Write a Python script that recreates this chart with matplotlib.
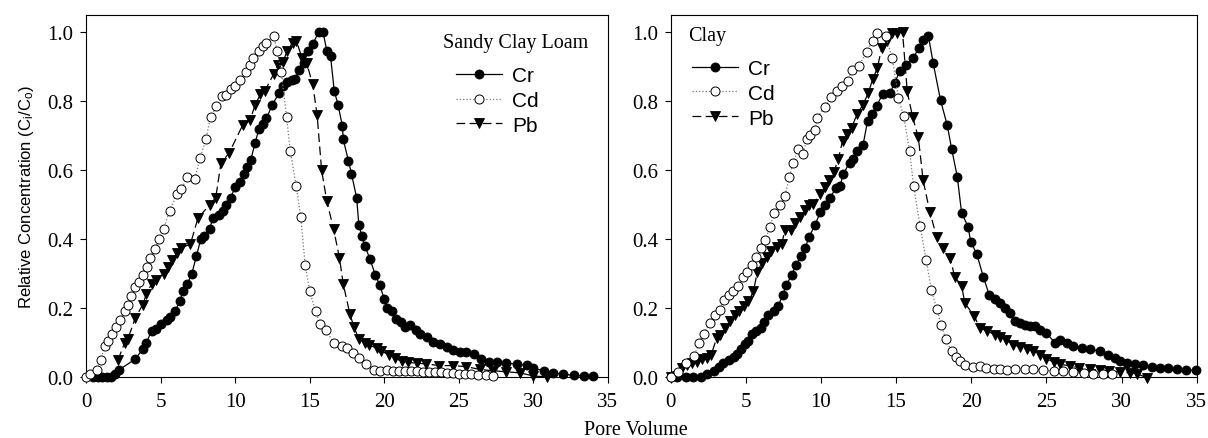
import matplotlib
matplotlib.use("Agg")
import matplotlib.pyplot as plt

plt.rcParams["mathtext.default"] = "regular"

SERIF = "Liberation Serif"
SANS = "Liberation Sans"

# Sandy Clay Loam
scl_cr_x = [0.5, 0.8, 1.1, 1.4, 1.7, 1.95, 2.2, 3.3, 3.8, 4.05, 4.4, 4.7, 5.0, 5.4, 5.6, 5.95,
            6.3, 6.5, 6.8, 7.1, 7.4, 7.7, 7.9, 8.3, 8.5, 8.9, 9.2, 9.4, 9.7, 10.0, 10.3, 10.6,
            10.8, 11.05, 11.35, 11.6, 11.9, 12.1, 12.5, 12.97, 13.2, 13.5, 13.8, 14.0, 14.3,
            14.6, 14.9, 15.2, 15.6, 15.9, 16.15, 16.4, 16.65, 16.9, 17.2, 17.25, 17.6, 17.8,
            18.15, 18.3, 18.5, 18.7, 19.05, 19.4, 19.7, 20.0, 20.2, 20.5, 20.8, 21.1, 21.4,
            21.7, 22.1, 22.4, 22.85, 23.3, 23.75, 24.2, 24.6, 25.1, 25.5, 26.0, 26.5, 27.0,
            27.55, 28.2, 28.9, 29.55, 30.0, 30.7, 31.35, 32.0, 32.7, 33.4, 34.0]
scl_cr_y = [0.0, 0.0, 0.0, 0.0, 0.0, 0.01, 0.02, 0.052, 0.08, 0.10, 0.134, 0.14, 0.155, 0.165,
            0.175, 0.19, 0.22, 0.25, 0.27, 0.30, 0.35, 0.40, 0.41, 0.43, 0.46, 0.47, 0.48, 0.50,
            0.52, 0.55, 0.565, 0.59, 0.61, 0.63, 0.68, 0.72, 0.735, 0.75, 0.79, 0.825, 0.845,
            0.855, 0.86, 0.865, 0.89, 0.91, 0.945, 0.965, 1.0, 1.0, 0.946, 0.93, 0.83, 0.79,
            0.727, 0.69, 0.627, 0.59, 0.52, 0.44, 0.41, 0.38, 0.342, 0.296, 0.267, 0.226, 0.20,
            0.19, 0.168, 0.16, 0.144, 0.15, 0.137, 0.125, 0.115, 0.102, 0.095, 0.088, 0.078,
            0.072, 0.072, 0.066, 0.052, 0.044, 0.042, 0.04, 0.037, 0.034, 0.025, 0.018, 0.012,
            0.008, 0.005, 0.003, 0.002]

scl_cd_x = [0.0, 0.3, 0.75, 1.0, 1.25, 1.5, 1.75, 2.0, 2.3, 2.6, 2.8, 3.0, 3.3, 3.55, 3.8, 4.1,
            4.3, 4.6, 4.9, 5.2, 5.6, 6.1, 6.4, 6.8, 7.3, 7.65, 8.05, 8.35, 8.75, 9.1, 9.4, 9.7,
            10.0, 10.3, 10.7, 11.0, 11.2, 11.6, 11.85, 12.1, 12.6, 12.8, 13.1, 13.45, 13.7,
            14.1, 14.4, 14.7, 15.0, 15.4, 15.7, 16.1, 16.6, 17.2, 17.5, 17.9, 18.3, 18.8, 19.3,
            19.7, 20.2, 20.6, 21.0, 21.4, 21.8, 22.2, 22.6, 23.0, 23.4, 23.8, 24.2, 24.6, 25.0,
            25.4, 25.8, 26.3, 26.8, 27.3]
scl_cd_y = [0.0, 0.01, 0.02, 0.05, 0.09, 0.105, 0.125, 0.145, 0.165, 0.19, 0.21, 0.235, 0.26,
            0.275, 0.295, 0.32, 0.345, 0.37, 0.40, 0.43, 0.48, 0.53, 0.545, 0.58, 0.575, 0.635,
            0.69, 0.755, 0.785, 0.815, 0.818, 0.835, 0.845, 0.86, 0.885, 0.905, 0.925, 0.945,
            0.96, 0.97, 0.99, 0.945, 0.885, 0.755, 0.655, 0.553, 0.465, 0.325, 0.25, 0.19,
            0.155, 0.135, 0.10, 0.09, 0.083, 0.07, 0.055, 0.037, 0.02, 0.018, 0.02, 0.018,
            0.018, 0.017, 0.017, 0.016, 0.015, 0.015, 0.014, 0.013, 0.012, 0.011, 0.01, 0.009,
            0.008, 0.006, 0.005, 0.004]

scl_pb_x = [2.15, 2.6, 2.8, 3.3, 3.8, 4.05, 4.4, 4.7, 5.2, 5.5, 5.8, 6.1, 6.4, 7.0, 7.5, 8.3,
            8.7, 9.05, 9.6, 10.5, 11.0, 11.35, 11.7, 12.0, 12.6, 12.9, 13.2, 13.5, 13.85, 14.1,
            14.5, 14.8, 15.2, 15.5, 15.8, 16.15, 16.6, 17.0, 17.25, 17.7, 17.97, 18.3, 18.7,
            19.0, 19.5, 19.8, 20.3, 20.7, 21.2, 21.6, 22.2, 22.8, 23.7, 24.6, 25.5, 26.4, 27.3,
            28.2, 29.1, 30.0, 30.9]
scl_pb_y = [0.05, 0.10, 0.11, 0.17, 0.21, 0.24, 0.27, 0.28, 0.30, 0.32, 0.34, 0.36, 0.375,
            0.385, 0.46, 0.50, 0.52, 0.62, 0.65, 0.73, 0.745, 0.79, 0.82, 0.83, 0.88, 0.905,
            0.915, 0.945, 0.97, 0.975, 0.925, 0.91, 0.85, 0.76, 0.60, 0.51, 0.43, 0.345, 0.27,
            0.182, 0.145, 0.11, 0.10, 0.093, 0.083, 0.075, 0.065, 0.055, 0.045, 0.042, 0.04,
            0.038, 0.033, 0.033, 0.03, 0.022, 0.018, 0.015, 0.012, 0.003, 0.0]

# Clay
clay_cr_x = [0.0, 0.4, 1.0, 1.5, 2.0, 2.45, 2.85, 3.2, 3.5, 3.85, 4.2, 4.4, 4.65, 4.95, 5.15,
             5.4, 5.7, 6.0, 6.2, 6.5, 6.85, 7.15, 7.45, 7.7, 8.05, 8.35, 8.65, 8.95, 9.2, 9.6,
             9.95, 10.25, 10.6, 11.0, 11.25, 11.5, 11.9, 12.15, 12.4, 12.8, 13.1, 13.4, 13.7,
             14.1, 14.6, 14.9, 15.25, 15.66, 16.1, 16.55, 16.77, 17.15, 17.47, 17.96, 18.4,
             18.7, 19.07, 19.36, 19.8, 19.96, 20.36, 20.8, 21.2, 21.6, 21.9, 22.25, 22.55, 22.9,
             23.24, 23.57, 23.9, 24.24, 24.57, 25.0, 25.57, 25.9, 26.35, 26.8, 27.35, 27.9,
             28.57, 29.1, 29.57, 29.9, 30.35, 30.9, 31.45, 32.0, 32.55, 33.1, 33.7, 34.3, 34.95]
clay_cr_y = [0.0, 0.0, 0.0, 0.0, 0.0, 0.008, 0.017, 0.03, 0.04, 0.05, 0.058, 0.068, 0.08, 0.095,
             0.105, 0.125, 0.133, 0.142, 0.16, 0.18, 0.19, 0.205, 0.238, 0.267, 0.296, 0.325,
             0.35, 0.373, 0.406, 0.44, 0.478, 0.50, 0.52, 0.548, 0.553, 0.589, 0.622, 0.632,
             0.656, 0.673, 0.742, 0.762, 0.786, 0.82, 0.824, 0.853, 0.887, 0.906, 0.925, 0.954,
             0.978, 0.989, 0.91, 0.802, 0.731, 0.661, 0.581, 0.476, 0.435, 0.392, 0.358, 0.291,
             0.238, 0.226, 0.214, 0.20, 0.185, 0.161, 0.157, 0.152, 0.147, 0.147, 0.137, 0.128,
             0.099, 0.107, 0.099, 0.091, 0.085, 0.08, 0.075, 0.065, 0.056, 0.046, 0.041, 0.037,
             0.034, 0.03, 0.027, 0.027, 0.022, 0.02, 0.02]

clay_cd_x = [0.0, 0.5, 1.05, 1.55, 1.9, 2.2, 2.6, 2.95, 3.25, 3.55, 3.85, 4.15, 4.5, 4.8, 5.05,
             5.4, 5.7, 6.0, 6.3, 6.6, 6.9, 7.3, 7.6, 7.9, 8.15, 8.5, 8.8, 9.05, 9.3, 9.6, 9.75,
             10.25, 10.7, 11.1, 11.4, 11.8, 12.05, 12.5, 13.05, 13.45, 13.75, 14.3, 14.75, 15.15,
             15.5, 15.9, 16.16, 16.6, 17.0, 17.35, 17.7, 18.0, 18.3, 18.69, 19.0, 19.24, 19.58,
             20.1, 20.6, 21.0, 21.5, 21.9, 22.4, 22.9, 23.57, 24.1, 24.8, 25.5, 26.1, 26.8, 27.5,
             28.1, 28.8, 29.4]
clay_cd_y = [0.0, 0.014, 0.04, 0.06, 0.10, 0.126, 0.157, 0.18, 0.195, 0.224, 0.238, 0.248,
             0.264, 0.289, 0.305, 0.325, 0.347, 0.373, 0.397, 0.435, 0.476, 0.498, 0.524, 0.58,
             0.622, 0.661, 0.646, 0.69, 0.702, 0.716, 0.752, 0.783, 0.812, 0.829, 0.843, 0.858,
             0.891, 0.901, 0.944, 0.975, 0.997, 0.988, 0.925, 0.81, 0.757, 0.656, 0.555, 0.437,
             0.339, 0.253, 0.197, 0.152, 0.11, 0.075, 0.059, 0.046, 0.034, 0.03, 0.032, 0.027,
             0.024, 0.022, 0.02, 0.024, 0.024, 0.022, 0.02, 0.017, 0.017, 0.014, 0.012, 0.01,
             0.008, 0.008]

clay_pb_x = [0.0, 0.4, 0.73, 1.06, 1.4, 1.73, 2.06, 2.44, 2.7, 3.06, 3.28, 3.6, 3.95, 4.3, 4.57,
             4.9, 5.17, 5.5, 5.77, 6.05, 6.4, 6.7, 7.05, 7.4, 7.6, 8.0, 8.27, 8.6, 8.93, 9.2,
             9.5, 9.93, 10.25, 10.55, 10.86, 11.15, 11.44, 11.75, 12.04, 12.4, 12.8, 13.15,
             13.44, 13.75, 14.04, 14.37, 14.7, 15.03, 15.43, 15.74, 16.1, 16.48, 16.8, 17.25,
             17.7, 18.1, 18.6, 18.9, 19.36, 19.58, 20.18, 20.58, 21.07, 21.57, 21.9, 22.3, 22.8,
             23.24, 23.7, 24.1, 24.57, 25.0, 25.5, 25.9, 26.6, 27.2, 27.9, 28.57, 29.2, 29.9,
             30.56, 31.0, 31.67]
clay_pb_y = [0.0, 0.003, 0.027, 0.034, 0.041, 0.043, 0.051, 0.056, 0.065, 0.113, 0.123, 0.142,
             0.161, 0.18, 0.19, 0.205, 0.219, 0.248, 0.305, 0.33, 0.349, 0.366, 0.378, 0.387,
             0.426, 0.427, 0.447, 0.464, 0.483, 0.498, 0.502, 0.531, 0.55, 0.57, 0.594, 0.632,
             0.685, 0.704, 0.723, 0.762, 0.79, 0.824, 0.863, 0.896, 0.954, 0.975, 0.997, 0.997,
             1.0, 0.829, 0.754, 0.695, 0.57, 0.478, 0.406, 0.373, 0.344, 0.291, 0.264, 0.214,
             0.178, 0.142, 0.133, 0.123, 0.116, 0.107, 0.094, 0.087, 0.082, 0.075, 0.065, 0.053,
             0.043, 0.037, 0.032, 0.027, 0.022, 0.02, 0.017, 0.014, 0.012, 0.01, -0.002]

x_ticks = [0, 5, 10, 15, 20, 25, 30, 35]
y_ticks = [0.0, 0.2, 0.4, 0.6, 0.8, 1.0]

panels = [
    ("Sandy Clay Loam", (scl_cr_x, scl_cr_y), (scl_cd_x, scl_cd_y), (scl_pb_x, scl_pb_y)),
    ("Clay", (clay_cr_x, clay_cr_y), (clay_cd_x, clay_cd_y), (clay_pb_x, clay_pb_y)),
]

# where the soil name and the legend sit, in axes fractions
title_pos = [(0.684, 0.925), (0.033, 0.942)]
legend_anchor = [(0.709, 0.764), (0.040, 0.784)]

fig = plt.figure(figsize=(12.08, 4.39), dpi=100)
ax_left = fig.add_axes([0.0712, 0.139, 0.432, 0.8246])
ax_right = fig.add_axes([0.5552, 0.139, 0.4354, 0.8246])

for i, (ax, (title, cr, cd, pb)) in enumerate(zip([ax_left, ax_right], panels)):
    ax.plot(cr[0], cr[1], "-", color="black", lw=0.9, marker="o", ms=6.5,
            mfc="black", mec="black", mew=0.6, label="Cr", clip_on=False, zorder=3)
    ax.plot(cd[0], cd[1], ":", color="#777777", lw=0.9, marker="o", ms=6.5,
            mfc="white", mec="black", mew=0.7, label="Cd", clip_on=False, zorder=4)
    ax.plot(pb[0], pb[1], color="black", lw=0.9, dashes=(7, 3.5), marker="v", ms=7,
            mfc="black", mec="black", mew=0.6, label="Pb", clip_on=False, zorder=3)

    ax.set_xlim(0, 35)
    ax.set_ylim(0, 1.05)
    ax.set_xticks(x_ticks)
    ax.set_yticks(y_ticks)
    ax.set_xticklabels([str(t) for t in x_ticks], fontfamily=SERIF, fontsize=15)
    ax.set_yticklabels([f"{t:.1f}" for t in y_ticks], fontfamily=SERIF, fontsize=15)
    ax.tick_params(direction="out", length=4, width=0.8, pad=5)
    ax.tick_params(axis="x", pad=7)
    for s in ax.spines.values():
        s.set_linewidth(0.8)

    ax.text(*title_pos[i], title, transform=ax.transAxes, ha="left", va="center",
            fontfamily=SERIF, fontsize=14.5)
    ax.legend(frameon=False, loc="center left", bbox_to_anchor=legend_anchor[i],
              borderpad=0, borderaxespad=0, handlelength=2.2, handletextpad=0.5,
              labelspacing=0.28, prop={"family": SANS, "size": 15})

ax_left.set_ylabel("Relative Concentration (C$_i$/C$_o$)", fontfamily=SANS, fontsize=12,
                   labelpad=8)
fig.text(0.526, 0.008, "Pore Volume", ha="center", va="baseline", fontfamily=SERIF, fontsize=14.5)

fig.savefig("out.png", dpi=100)
